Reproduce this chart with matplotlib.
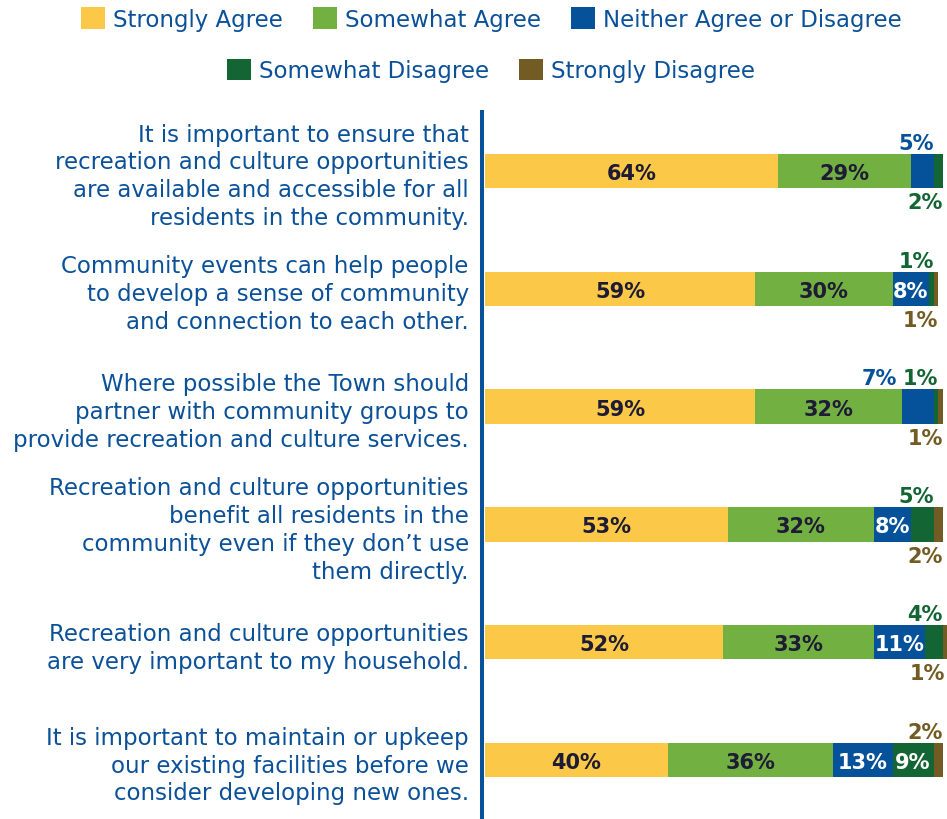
import matplotlib.pyplot as plt
from matplotlib.patches import Patch

plt.rcParams['font.family'] = ['DejaVu Sans']

statements = [
    'It is important to ensure that\nrecreation and culture opportunities\nare available and accessible for all\nresidents in the community.',
    'Community events can help people\nto develop a sense of community\nand connection to each other.',
    'Where possible the Town should\npartner with community groups to\nprovide recreation and culture services.',
    'Recreation and culture opportunities\nbenefit all residents in the\ncommunity even if they don\u2019t use\nthem directly.',
    'Recreation and culture opportunities\nare very important to my household.',
    'It is important to maintain or upkeep\nour existing facilities before we\nconsider developing new ones.',
]
categories = ['Strongly Agree', 'Somewhat Agree', 'Neither Agree or Disagree',
              'Somewhat Disagree', 'Strongly Disagree']

strongly_agree = [64, 59, 59, 53, 52, 40]
somewhat_agree = [29, 30, 32, 32, 33, 36]
neither = [5, 8, 7, 8, 11, 13]
somewhat_disagree = [2, 1, 1, 5, 4, 9]
strongly_disagree = [0, 1, 1, 2, 1, 2]

series = [strongly_agree, somewhat_agree, neither, somewhat_disagree, strongly_disagree]
colors = ['#fbc947', '#73b042', '#06529a', '#136634', '#735b24']
inside_text = ['#1d1b35', '#1d1b35', 'white', 'white', 'white']
label_blue = '#0b5199'

# small segments get their label outside the bar, above or below
outside_side = [
    {2: 'above', 3: 'below'},
    {3: 'above', 4: 'below'},
    {2: 'above', 3: 'above', 4: 'below'},
    {3: 'above', 4: 'below'},
    {3: 'above', 4: 'below'},
    {4: 'above'},
]

bar_h = 0.29
fig = plt.figure(figsize=(9.47, 8.2), dpi=100)
ax = fig.add_axes([482 / 947, 0, 465 / 947, 707 / 820])

y = list(range(len(statements)))
left = [0] * len(statements)
above_labels = [[] for _ in statements]

for k, vals in enumerate(series):
    ax.barh(y, vals, left=left, height=bar_h, color=colors[k], label=categories[k])
    for i, v in enumerate(vals):
        if v == 0:
            continue
        end = left[i] + v
        if v >= 8:
            ax.annotate(f'{v}%', xy=(left[i] + v / 2, i), xytext=(0, -5.8),
                        textcoords='offset points', ha='center', va='baseline',
                        fontsize=15, fontweight='bold', color=inside_text[k])
        else:
            side = outside_side[i].get(k, 'above')
            if side == 'above':
                yy, dy = i - bar_h / 2, 3.6
            else:
                yy, dy = i + bar_h / 2, -14.4
            t = ax.annotate(f'{v}%', xy=(min(end, 100.4), yy), xytext=(0, dy),
                            textcoords='offset points', ha='right', va='baseline',
                            fontsize=15, fontweight='bold', color=colors[k],
                            annotation_clip=False)
            if side == 'above':
                above_labels[i].append(t)
        left[i] = end

ax.set_xlim(-0.65, 100.9)
ax.set_ylim(len(statements) - 0.5, -0.5)
for s in ['top', 'right', 'bottom']:
    ax.spines[s].set_visible(False)
ax.spines['left'].set_color(label_blue)
ax.spines['left'].set_linewidth(2.9)
ax.set_xticks([])
ax.set_yticks(y, statements, fontsize=16.5, color=label_blue, linespacing=1.27)
ax.tick_params(axis='y', length=0, pad=9.5)

handles = [Patch(facecolor=c) for c in colors]
leg_kw = dict(loc='center', frameon=False, fontsize=16.5, handlelength=1.05,
              handleheight=1.05, handletextpad=0.35, columnspacing=1.3,
              labelcolor=label_blue)
fig.legend(handles[:3], categories[:3], ncol=3, bbox_to_anchor=(0.519, 0.9756), **leg_kw)
fig.legend(handles[3:], categories[3:], ncol=2, bbox_to_anchor=(0.518, 0.913), **leg_kw)

# push neighbouring labels above a bar apart so they don't collide
fig.canvas.draw()
renderer = fig.canvas.get_renderer()
for labels in above_labels:
    limit = None
    for t in reversed(labels):
        bb = t.get_window_extent(renderer)
        if limit is not None and bb.x1 > limit - 6:
            shift = (bb.x1 - (limit - 6)) * 72 / fig.dpi
            dx, dy = t.xyann
            t.xyann = (dx - shift, dy)
            bb = t.get_window_extent(renderer)
        limit = bb.x0

fig.savefig('out.png', dpi=100)
